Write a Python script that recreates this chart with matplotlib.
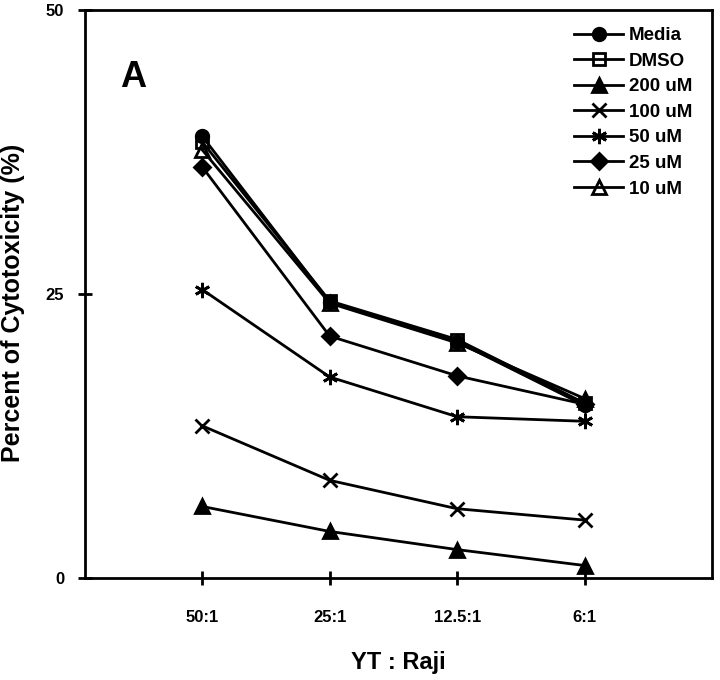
import matplotlib
matplotlib.use('Agg')
import matplotlib.pyplot as plt

plt.rcParams['font.family'] = ['Liberation Sans', 'DejaVu Sans']
plt.rcParams['font.weight'] = 'bold'
plt.rcParams['axes.labelweight'] = 'bold'

# E:T ratios on the x axis
ratios = ['50:1', '25:1', '12.5:1', '6:1']

# Percent of cytotoxicity for each treatment
media = [38.9, 24.3, 20.8, 15.2]
dmso = [38.4, 24.4, 21.0, 15.4]
uM200 = [6.3, 4.1, 2.5, 1.1]
uM100 = [13.4, 8.6, 6.1, 5.1]
uM50 = [25.4, 17.7, 14.2, 13.8]
uM25 = [36.2, 21.3, 17.8, 15.3]
uM10 = [37.7, 24.2, 20.7, 15.8]

labels = ['Media', 'DMSO', '200 uM', '100 uM', '50 uM', '25 uM', '10 uM']
series = [media, dmso, uM200, uM100, uM50, uM25, uM10]
markers = ['o', 's', '^', 'x', (6, 2, 0), 'D', '^']
fills = ['full', 'none', 'full', 'full', 'full', 'full', 'none']
sizes = [9, 8, 10, 10, 11, 8, 10]

fig = plt.figure(figsize=(7.2, 6.8), dpi=100)
ax = fig.add_axes([0.118, 0.15, 0.871, 0.835])

x = range(1, len(ratios) + 1)
for vals, lab, m, f, s in zip(series, labels, markers, fills, sizes):
    ax.plot(x, vals, color='black', lw=2, marker=m, ms=s, fillstyle=f,
            mfc='black' if f == 'full' else 'white', mec='black', mew=2, label=lab)

ax.set_xlim(0.08, 5.0)
ax.set_ylim(0, 50)
ax.set_xticks(list(x), ratios)
ax.set_yticks([0, 25, 50])
for sp in ax.spines.values():
    sp.set_linewidth(2)
ax.tick_params(direction='inout', length=10, width=2, labelsize=12)
ax.tick_params(axis='x', pad=18)
ax.tick_params(axis='y', pad=10)

ax.set_ylabel('Percent of Cytotoxicity (%)', fontsize=18)
ax.yaxis.set_label_coords(-0.095, 0.485)
ax.set_xlabel('YT : Raji', fontsize=17)
ax.xaxis.set_label_coords(0.5, -0.128)
ax.text(0.056, 0.865, 'A', transform=ax.transAxes, fontsize=26, fontweight='bold')

leg = ax.legend(loc='upper right', frameon=False, fontsize=13.5, handlelength=2.6,
                labelspacing=0.45, handletextpad=0.3, bbox_to_anchor=(0.995, 1.0))

fig.savefig('out.png', dpi=100)
